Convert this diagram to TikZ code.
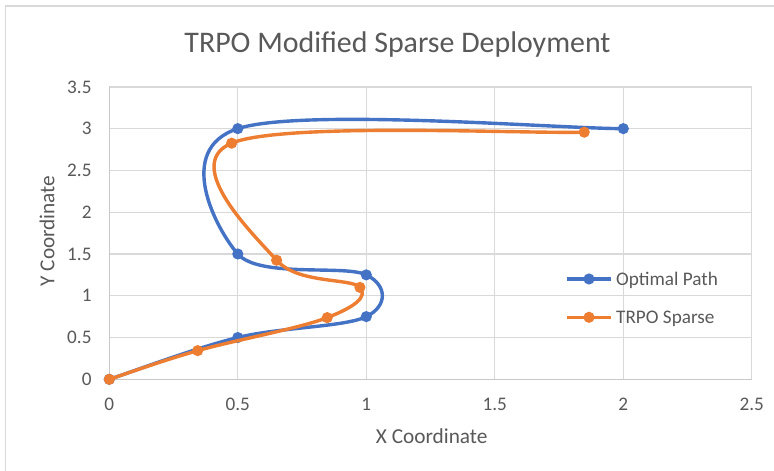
\documentclass[tikz,border=0pt]{standalone}
\usepackage{fontspec}
\setmainfont{Carlito}
\definecolor{ser1}{HTML}{4472C4}
\definecolor{ser2}{HTML}{ED7D31}
\definecolor{gridc}{HTML}{D9D9D9}
\definecolor{axisc}{HTML}{C8C8C8}
\definecolor{txt}{HTML}{595959}
\tikzset{
  gridline/.style={draw=gridc, line width=1.3pt},
  axisline/.style={draw=axisc, line width=1.3pt},
  ticklab/.style={text=txt, font=\fontsize{19.2}{22}\selectfont, inner sep=0pt},
  seriesA/.style={draw=ser1, line width=3.4pt, line cap=round, line join=round},
  seriesB/.style={draw=ser2, line width=3.4pt, line cap=round, line join=round},
  markA/.style={fill=ser1, draw=none},
  markB/.style={fill=ser2, draw=none},
}
\begin{document}
\begin{tikzpicture}[x=1pt,y=1pt]
\useasboundingbox (0,0) rectangle (774,471);
\fill[white] (0,0) rectangle (774,471);
% chart border (left and top visible)
\draw[gridc, line width=1.5pt] (5.5,0) -- (5.5,465) -- (774,465);
% title
\node[anchor=base, text=txt, font=\fontsize{29.9}{34}\selectfont, inner sep=0pt] (title) at (397.5,418.5) {TRPO Modified Sparse Deployment};
% axis titles
\node[text=txt, font=\fontsize{21.3}{24}\selectfont, inner sep=0pt, rotate=90] (ytitle) at (47,240) {Y Coordinate};
\node[text=txt, font=\fontsize{21.3}{24}\selectfont, inner sep=0pt] (xtitle) at (431.7,34.5) {X Coordinate};
% plot area in data coordinates
\begin{scope}[shift={(109.3,91.7)}, x=257pt, y=83.55pt]
  \foreach \yy in {0.5,1,...,3.5} \draw[gridline] (0,\yy) -- (2.5,\yy);
  \foreach \xx in {0.5,1,...,2.5} \draw[gridline] (\xx,0) -- (\xx,3.5);
  \draw[axisline] (0,0) -- (2.5,0);
  \draw[axisline] (0,0) -- (0,3.5);
  % tick labels
  \foreach \yy/\lab in {0/0,0.5/0.5,1/1,1.5/1.5,2/2,2.5/2.5,3/3,3.5/3.5}
    \node[ticklab, anchor=east] (yl\lab) at ([xshift=-17.6pt]0,\yy) {\lab};
  \foreach \xx/\lab in {0/0,0.5/0.5,1/1,1.5/1.5,2/2,2.5/2.5}
    \node[ticklab, anchor=base] (xl\lab) at ([yshift=-31.5pt]\xx,0) {\lab};
  % Optimal Path
  \draw[seriesA] (0,0) .. controls (0.0833,0.0833) and (0.3333,0.375) .. (0.5,0.5)
    .. controls (0.6667,0.625) and (0.9167,0.625) .. (1,0.75)
    .. controls (1.0833,0.875) and (1.0833,1.125) .. (1,1.25)
    .. controls (0.9167,1.375) and (0.5833,1.2083) .. (0.5,1.5)
    .. controls (0.4167,1.7917) and (0.25,2.75) .. (0.5,3)
    .. controls (0.75,3.25) and (1.75,3) .. (2,3);
  \foreach \p in {(0,0),(0.5,0.5),(1,0.75),(1,1.25),(0.5,1.5),(0.5,3),(2,3)}
    \fill[markA] \p circle[radius=5.6pt];
  % TRPO Sparse
  \draw[seriesB] (0,0) .. controls (0.0573,0.0572) and (0.2027,0.2200) .. (0.344,0.343)
    .. controls (0.4853,0.4660) and (0.7428,0.6118) .. (0.848,0.738)
    .. controls (0.9532,0.8642) and (1.0078,0.9855) .. (0.975,1.10)
    .. controls (0.9422,1.2145) and (0.7342,1.1373) .. (0.651,1.425)
    .. controls (0.5678,1.7127) and (0.2765,2.5705) .. (0.476,2.826)
    .. controls (0.6755,3.0815) and (1.6193,2.936) .. (1.848,2.958);
  \foreach \p in {(0,0),(0.344,0.343),(0.848,0.738),(0.975,1.10),(0.651,1.425),(0.476,2.826),(1.848,2.958)}
    \fill[markB] \p circle[radius=5.6pt];
\end{scope}
% legend
\coordinate (la1) at (566.7,192);
\coordinate (la2) at (611,192);
\coordinate (lb1) at (566.7,153.7);
\coordinate (lb2) at (611,153.7);
\draw[seriesA, line cap=butt] (la1) -- (la2);
\fill[markA] (589,192) circle[radius=5.6pt];
\draw[seriesB, line cap=butt] (lb1) -- (lb2);
\fill[markB] (589,153.7) circle[radius=5.6pt];
\node[ticklab, anchor=base west] (leg1) at (616,185.3) {Optimal Path};
\node[ticklab, anchor=base west] (leg2) at (616,147.7) {TRPO Sparse};
\end{tikzpicture}
\end{document}
